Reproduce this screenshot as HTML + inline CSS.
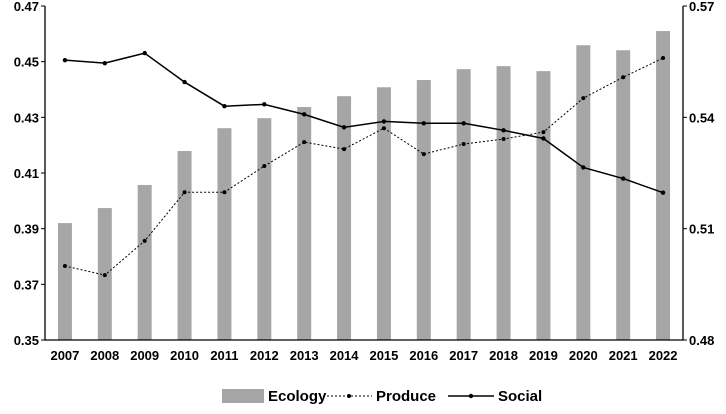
<!DOCTYPE html>
<html><head><meta charset="utf-8"><style>
body{margin:0;background:#fff;font-family:"Liberation Sans",Arial,sans-serif;}
svg text{font-family:"Liberation Sans",Arial,sans-serif;font-weight:bold;font-size:13px;fill:#000;}
</style></head><body>
<svg id="chart" width="726" height="409"></svg>
<script>
const years=["2007","2008","2009","2010","2011","2012","2013","2014","2015","2016","2017","2018","2019","2020","2021","2022"];
const ecology=[0.392,0.3974,0.4057,0.4179,0.4261,0.4297,0.4337,0.4376,0.4408,0.4434,0.4473,0.4484,0.4466,0.4559,0.4541,0.461];
const produce=[0.3766,0.3733,0.3856,0.4031,0.4031,0.4125,0.4211,0.4186,0.4261,0.4168,0.4204,0.4222,0.4247,0.4369,0.4444,0.4513];
const social=[0.5554,0.5546,0.5573,0.5495,0.543,0.5435,0.5408,0.5373,0.5389,0.5384,0.5384,0.5365,0.5343,0.5265,0.5235,0.5197];
const leftTicks=[0.35,0.37,0.39,0.41,0.43,0.45,0.47];
const rightTicks=[0.48,0.51,0.54,0.57];
const NS="http://www.w3.org/2000/svg",svg=document.getElementById('chart');
const L=45,R=683,T=6,B=340;
const yL=v=>B-(v-0.35)/(0.12)*(B-T);
const yR=v=>B-(v-0.48)/(0.09)*(B-T);
const x=i=>L+(R-L)/years.length*(i+0.5);
function mk(t,a,p){const e=document.createElementNS(NS,t);for(const k in a)e.setAttribute(k,a[k]);(p||svg).appendChild(e);return e;}
let e;
years.forEach((y,i)=>{
 e=mk('rect',{x:x(i)-7,y:yL(ecology[i]),width:14,height:B-yL(ecology[i]),fill:'#a6a6a6'});
 
 
 e=mk('text',{x:x(i),y:B+20,'text-anchor':'middle'});e.textContent=y;
 
 
});
e=mk('path',{d:`M${L},${T}V${B}H${R}V${T}`,stroke:'#000','stroke-width':1.3,fill:'none'});


leftTicks.forEach(v=>{mk('line',{x1:L-4,x2:L,y1:yL(v),y2:yL(v),stroke:'#000'});
 e=mk('text',{x:L-6,y:yL(v)+5,'text-anchor':'end'});e.textContent=v.toFixed(2);
 
 });
rightTicks.forEach(v=>{mk('line',{x1:R,x2:R+4,y1:yR(v),y2:yR(v),stroke:'#000'});
 e=mk('text',{x:R+6,y:yR(v)+5});e.textContent=v.toFixed(2);
 
 });
e=mk('polyline',{points:produce.map((v,i)=>x(i)+','+yL(v)).join(' '),fill:'none',stroke:'#000','stroke-dasharray':'2,2','stroke-width':1});


produce.forEach((v,i)=>mk('circle',{cx:x(i),cy:yL(v),r:2,fill:'#000'}));
e=mk('polyline',{points:social.map((v,i)=>x(i)+','+yR(v)).join(' '),fill:'none',stroke:'#000','stroke-width':1.5});


social.forEach((v,i)=>mk('circle',{cx:x(i),cy:yR(v),r:2.2,fill:'#000'}));
const g=mk('g',{});


mk('rect',{x:222,y:389,width:42,height:14,fill:'#a6a6a6'},g);
e=mk('text',{x:268,y:401},g);e.textContent='Ecology';e.style.fontSize='15px';
mk('line',{x1:327,x2:372,y1:396,y2:396,stroke:'#000','stroke-dasharray':'2,2'},g);
mk('circle',{cx:349,cy:396,r:2,fill:'#000'},g);
e=mk('text',{x:376,y:401},g);e.textContent='Produce';e.style.fontSize='15px';
mk('line',{x1:448,x2:494,y1:396,y2:396,stroke:'#000','stroke-width':1.5},g);
mk('circle',{cx:471,cy:396,r:2.2,fill:'#000'},g);
e=mk('text',{x:498,y:401},g);e.textContent='Social';e.style.fontSize='15px';
</script>
</body></html>
